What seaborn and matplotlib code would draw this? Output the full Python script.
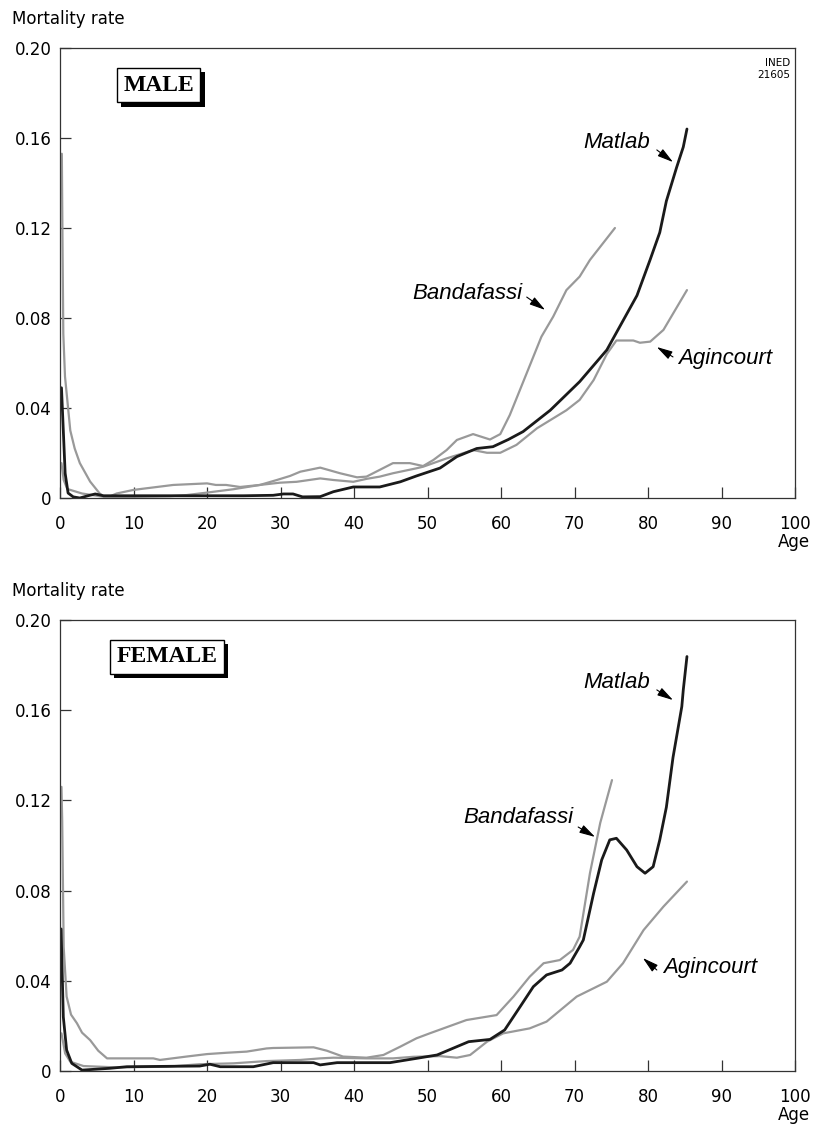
import matplotlib
matplotlib.use("Agg")
import matplotlib.pyplot as plt
import matplotlib.patheffects as pe
import seaborn as sns
import pandas as pd

# Style first, fonts after (set_theme resets font.family)
sns.set_theme(style="white")
plt.rcParams["font.family"] = ["DejaVu Sans"]
plt.rcParams["text.color"] = "black"
plt.rcParams["axes.labelcolor"] = "black"

# ---- Data (age in years, mortality rate) ----

male_matlab_age = [0.2, 0.7, 1.1, 1.8, 2.7, 3.8, 4.8, 5.9, 7, 10, 15, 20, 25, 29,
                   30.4, 31.7, 33, 35.4, 37.2, 39.9, 43.5, 46.3, 48.5, 51.7, 54,
                   56.7, 58.9, 61, 63, 66.7, 70.7, 74.4, 78.5, 80.3, 81.6, 82.5,
                   83.9, 84.8, 85.3]
male_matlab_rate = [0.049, 0.011, 0.0022, 0.0005, 0.0, 0.001, 0.0018, 0.001, 0.001,
                    0.001, 0.001, 0.001, 0.001, 0.0012, 0.0018, 0.0018, 0.0005,
                    0.0006, 0.0028, 0.0049, 0.0049, 0.0072, 0.0098, 0.0133, 0.0184,
                    0.022, 0.0228, 0.026, 0.0295, 0.039, 0.0517, 0.0658, 0.090,
                    0.106, 0.118, 0.132, 0.147, 0.156, 0.164]

male_banda_age = [0.25, 0.35, 0.45, 0.68, 1.4, 2.0, 2.7, 4.1, 5.4, 6.3, 7.7, 10,
                  15.4, 20, 21.2, 22.6, 24.5, 27.2, 29.5, 31.3, 32.7, 35.4, 38.1,
                  40.4, 41.7, 43.5, 45.3, 47.6, 49.4, 50.8, 52.6, 54, 56.2, 58.5,
                  59.9, 61.2, 63.5, 65.5, 67.1, 68.9, 70.7, 72.1, 75.5]
male_banda_rate = [0.153, 0.11, 0.073, 0.054, 0.030, 0.022, 0.0155, 0.0073, 0.002,
                   0.0, 0.002, 0.0036, 0.0058, 0.0065, 0.0058, 0.0058, 0.0049,
                   0.0058, 0.008, 0.0098, 0.0117, 0.0135, 0.011, 0.0092, 0.0095,
                   0.0125, 0.0155, 0.0155, 0.0142, 0.0169, 0.0213, 0.0258, 0.0284,
                   0.026, 0.0284, 0.0369, 0.0555, 0.0717, 0.0806, 0.0924, 0.0984,
                   0.1058, 0.12]

male_aginc_age = [0.2, 0.5, 1.0, 2.0, 3, 4, 5, 6, 7, 10, 15, 17.2, 20, 23.6, 27.2,
                  29.9, 32.2, 35.4, 37.2, 39.9, 41.7, 43.5, 45.3, 48.5, 49.4, 52.6,
                  56.2, 58.1, 59.9, 62.1, 64.9, 68.9, 70.7, 72.6, 74.4, 75.7, 78,
                  78.9, 80.3, 82.1, 85.3]
male_aginc_rate = [0.0155, 0.008, 0.004, 0.003, 0.002, 0.0015, 0.001, 0.0005,
                   0.0003, 0.0005, 0.0008, 0.0013, 0.0024, 0.0039, 0.0058, 0.0068,
                   0.0072, 0.0087, 0.008, 0.0072, 0.0085, 0.0095, 0.011, 0.0132,
                   0.0139, 0.0176, 0.0213, 0.0201, 0.0201, 0.0236, 0.031, 0.039,
                   0.0436, 0.0524, 0.064, 0.070, 0.070, 0.069, 0.0695, 0.0747,
                   0.0924]

female_matlab_age = [0.15, 0.45, 0.9, 1.6, 3, 6.8, 9.1, 19, 20.4, 21.8, 26.3, 29,
                     34.5, 35.4, 37.7, 44.9, 48.5, 51.3, 55.6, 58.5, 60.5, 62.6,
                     64.4, 66.2, 68.3, 69.4, 70.7, 71.2, 72.6, 73.7, 74.8, 75.7,
                     77.1, 78.5, 79.6, 80.7, 81.6, 82.5, 83.4, 84.6, 84.8, 85.3]
female_matlab_rate = [0.063, 0.024, 0.0093, 0.0034, 0.0004, 0.0012, 0.0019, 0.0022,
                      0.003, 0.0019, 0.0019, 0.0037, 0.0037, 0.0027, 0.0037, 0.0037,
                      0.0056, 0.0071, 0.013, 0.014, 0.0182, 0.0285, 0.0374, 0.0426,
                      0.0448, 0.0478, 0.0551, 0.0581, 0.0788, 0.0936, 0.1025,
                      0.1032, 0.098, 0.0906, 0.0877, 0.0906, 0.1025, 0.117, 0.139,
                      0.1616, 0.169, 0.1838]

female_banda_age = [0.2, 0.3, 0.5, 0.9, 1.5, 2.3, 3.0, 4.1, 5.2, 6.4, 12.7, 13.6,
                    17.2, 20, 22.7, 25.4, 28.1, 29, 34.5, 36.3, 38.5, 41.7, 44,
                    46.3, 48.5, 50.3, 55.3, 59.4, 61.7, 63.9, 65.8, 68, 69.8, 70.7,
                    72.1, 73.5, 75.1]
female_banda_rate = [0.126, 0.111, 0.055, 0.033, 0.025, 0.0212, 0.017, 0.0137,
                     0.009, 0.0056, 0.0056, 0.0049, 0.0064, 0.0075, 0.0081, 0.0086,
                     0.01, 0.0102, 0.0105, 0.009, 0.0064, 0.0059, 0.0071, 0.0108,
                     0.0145, 0.0167, 0.0226, 0.0248, 0.033, 0.0418, 0.0478, 0.0492,
                     0.0537, 0.0596, 0.0877, 0.11, 0.129]

female_aginc_age = [0.2, 0.7, 1.4, 3.2, 7.7, 14.5, 19, 23.6, 28.1, 32.7, 35.4, 37.2,
                    41.7, 45.3, 48.1, 51.7, 54, 55.8, 58.1, 60.3, 63.9, 66.2, 70.3,
                    74.4, 76.6, 79.4, 82.1, 85.3]
female_aginc_rate = [0.0167, 0.0078, 0.0041, 0.0022, 0.0016, 0.0019, 0.003, 0.0034,
                     0.0044, 0.0049, 0.0056, 0.0059, 0.0056, 0.0056, 0.0063, 0.0066,
                     0.0059, 0.0071, 0.013, 0.0167, 0.0189, 0.0219, 0.033, 0.0396,
                     0.0478, 0.0625, 0.0729, 0.084]

x_ticks = [0, 10, 20, 30, 40, 50, 60, 70, 80, 90, 100]
y_ticks = [0, 0.04, 0.08, 0.12, 0.16, 0.20]
y_tick_labels = ["0", "0.04", "0.08", "0.12", "0.16", "0.20"]

GRAY = "#999999"
BLACK = "#1a1a1a"
AXIS = "#333333"


def draw_panel(ax, series, sex_label, notes):
    # gray lines first, black Matlab on top
    for age, rate, color, lw in series:
        df = pd.DataFrame({"age": age, "rate": rate})
        sns.lineplot(data=df, x="age", y="rate", ax=ax, color=color,
                     linewidth=lw, sort=False, estimator=None)

    ax.set_xlim(0, 100)
    ax.set_ylim(0, 0.20)
    ax.set_xticks(x_ticks)
    ax.set_yticks(y_ticks)
    ax.set_yticklabels(y_tick_labels)
    ax.set_xlabel("")
    ax.set_ylabel("")
    ax.tick_params(axis="both", direction="in", length=8, width=0.9,
                   color=AXIS, labelsize=12, labelcolor="black",
                   bottom=True, left=True, top=False, right=False)
    ax.tick_params(axis="x", pad=12)
    ax.tick_params(axis="y", pad=6)
    for s in ax.spines.values():
        s.set_color(AXIS)
        s.set_linewidth(0.9)

    ax.text(1.0204, -0.098, "Age", transform=ax.transAxes, ha="right",
            va="center", fontsize=12)

    # sex box with drop shadow
    box_x, box_y = sex_label[1], sex_label[2]
    t = ax.text(box_x, box_y, sex_label[0], transform=ax.transAxes,
                ha="center", va="center", fontsize=17, fontweight="bold",
                family="Liberation Serif",
                bbox=dict(boxstyle="square,pad=0.28", facecolor="white",
                          edgecolor="black", linewidth=1))
    t.get_bbox_patch().set_path_effects([
        pe.SimplePatchShadow(offset=(3, -3), shadow_rgbFace="black", alpha=1.0),
        pe.Normal()])

    # curve labels with small arrows
    for label, tx, ty, ha, tail, head in notes:
        ax.text(tx, ty, label, ha=ha, va="center", fontsize=16,
                style="italic", family="Liberation Sans")
        ax.annotate("", xy=head, xytext=tail,
                    arrowprops=dict(arrowstyle="-|>,head_length=0.8,head_width=0.22",
                                    color="black", lw=0.8, shrinkA=0, shrinkB=0))


fig = plt.figure(figsize=(8.15, 11.31), dpi=100)
ax_top = fig.add_axes([60 / 815, 1 - 498 / 1131, 735 / 815, 450 / 1131])
ax_bot = fig.add_axes([60 / 815, 1 - 1071 / 1131, 735 / 815, 451 / 1131])

draw_panel(
    ax_top,
    [(male_banda_age, male_banda_rate, GRAY, 1.6),
     (male_aginc_age, male_aginc_rate, GRAY, 1.6),
     (male_matlab_age, male_matlab_rate, BLACK, 2.0)],
    ("MALE", 0.134, 0.917),
    [("Matlab", 80.3, 0.158, "right", (81.2, 0.1547), (83.4, 0.1493)),
     ("Bandafassi", 62.9, 0.091, "right", (63.5, 0.0893), (66.0, 0.0836)),
     ("Agincourt", 84.1, 0.062, "left", (83.4, 0.0627), (81.2, 0.0671))],
)
ax_top.text(0.993, 0.978, "INED\n21605", transform=ax_top.transAxes,
            ha="right", va="top", fontsize=7.5, multialignment="right",
            linespacing=1.2)

draw_panel(
    ax_bot,
    [(female_banda_age, female_banda_rate, GRAY, 1.6),
     (female_aginc_age, female_aginc_rate, GRAY, 1.6),
     (female_matlab_age, female_matlab_rate, BLACK, 2.0)],
    ("FEMALE", 0.1456, 0.918),
    [("Matlab", 80.3, 0.1725, "right", (81.2, 0.169), (83.4, 0.1645)),
     ("Bandafassi", 69.8, 0.1122, "right", (70.5, 0.1082), (72.8, 0.1038)),
     ("Agincourt", 82.0, 0.0461, "left", (81.2, 0.0448), (79.3, 0.0501))],
)

fig.text(12 / 815, 1 - 19 / 1131, "Mortality rate", ha="left", va="center",
         fontsize=12)
fig.text(12 / 815, 1 - 591 / 1131, "Mortality rate", ha="left", va="center",
         fontsize=12)

fig.savefig("out.png", dpi=100)
plt.close(fig)
